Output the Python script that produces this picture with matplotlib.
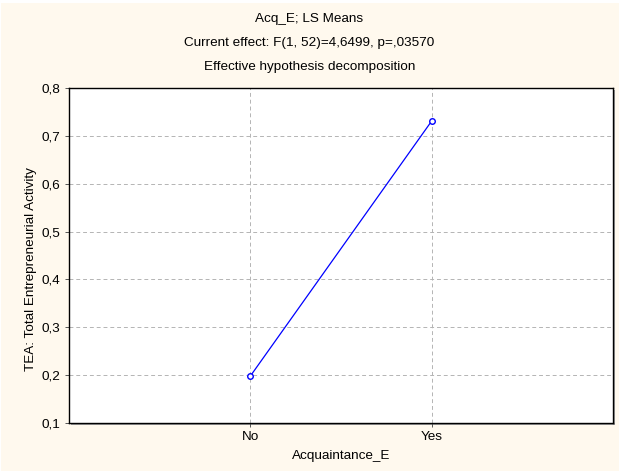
import numpy as np
import matplotlib
matplotlib.use("Agg")
import matplotlib.pyplot as plt
from matplotlib.ticker import FuncFormatter
from matplotlib.patches import Rectangle

plt.rcParams['font.family'] = ['Liberation Sans', 'DejaVu Sans']

# données
categories = ["No", "Yes"]
ls_means = [0.198, 0.731]
y_ticks = [0.1, 0.2, 0.3, 0.4, 0.5, 0.6, 0.7, 0.8]

titre = ["Acq_E; LS Means",
         "Current effect: F(1, 52)=4,6499, p=,03570",
         "Effective hypothesis decomposition"]

W, H = 619, 471
FS = 9.7
fig = plt.figure(figsize=(W / 100, H / 100), dpi=100)
fig.patch.set_facecolor("white")
fig.patches.append(Rectangle((1 / W, 0), 1, 1 - 3 / H, transform=fig.transFigure,
                             facecolor="#FFF9EE", edgecolor="none", zorder=-10))

l, r, t, b = 69, 613, 88, 423
ax = fig.add_axes([l / W, 1 - b / H, (r - l) / W, (b - t) / H])

# ombre du cadre
fig.patches.append(Rectangle(((l + 2) / W, 1 - (b + 2) / H), (r - l) / W, (b - t) / H,
                             transform=fig.transFigure, facecolor="#9a9a9a",
                             edgecolor="none", zorder=-5))

x = np.arange(len(categories))
ax.plot(x, ls_means, color="#0000ff", lw=0.9, marker="o", ms=4,
        mfc="white", mec="#0000ff", mew=1.0, zorder=3)

ax.set_xlim(-1, 2)
ax.set_ylim(0.1, 0.8)
ax.set_xticks(x)
ax.set_xticklabels(categories)
ax.set_yticks(y_ticks)
ax.yaxis.set_major_formatter(FuncFormatter(lambda v, p: f"{v:.1f}".replace(".", ",")))
ax.set_facecolor("white")
ax.grid(True, color="#b4b4b4", ls=(0, (4, 3)), lw=0.7)
ax.tick_params(direction="out", length=3, width=0.7, colors="#555555",
               labelcolor="black", labelsize=FS, pad=3)
for sp in ax.spines.values():
    sp.set_edgecolor("black")
    sp.set_linewidth(1.0)

ax.set_xlabel("Acquaintance_E", fontsize=FS, labelpad=5)
ax.set_ylabel("TEA: Total Entrepreneurial Activity", fontsize=FS)
ax.yaxis.set_label_coords(-0.058, 0.46)

for i, ligne in enumerate(titre):
    fig.text(0.5, 1 - (19 + 24 * i) / H, ligne,
             ha="center", va="center", fontsize=FS)

fig.savefig("out.png", dpi=100, facecolor=fig.get_facecolor())
